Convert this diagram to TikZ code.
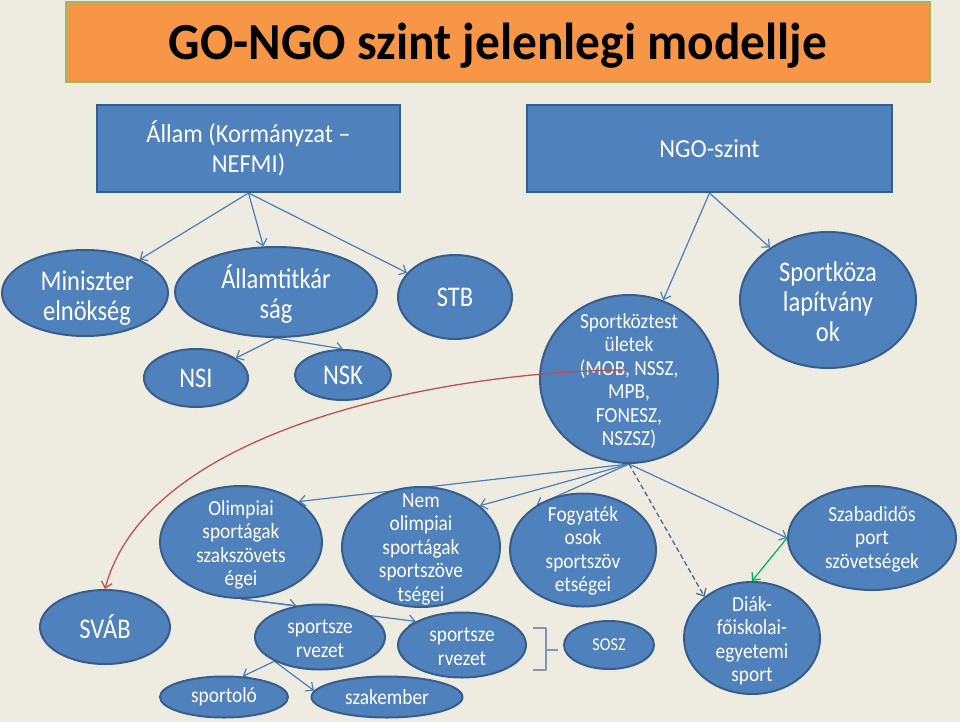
\documentclass[tikz,border=0pt]{standalone}
\usepackage{fontspec}
\setmainfont{Carlito}
\newfontfamily\titlef{Carlito}[FakeStretch=0.95]
\newfontfamily\boxf{Carlito}[FakeStretch=0.94]
\newfontfamily\bigf{Carlito}[FakeStretch=0.86]
\newfontfamily\medf{Carlito}[FakeStretch=0.9]
\usetikzlibrary{shapes.geometric,arrows.meta}
\definecolor{bgc}{HTML}{EEECE1}
\definecolor{blobfill}{HTML}{4F81BD}
\definecolor{blobline}{HTML}{385D8A}
\definecolor{arr}{HTML}{4A7EBB}
\definecolor{dashc}{HTML}{3F5F88}
\definecolor{titlefill}{HTML}{F79646}
\definecolor{titleline}{HTML}{9BBB59}
\definecolor{redarr}{HTML}{C0504D}
\definecolor{greenarr}{HTML}{00B050}
\definecolor{bracec}{HTML}{8096B4}
\pgfdeclarelayer{bg}
\pgfdeclarelayer{edges}
\pgfsetlayers{bg,edges,main}
\begin{document}
\begin{tikzpicture}[x=1pt,y=-1pt,
  blob/.style={ellipse, draw=blobline, fill=blobfill, line width=2pt, inner sep=0pt},
  box/.style={rectangle, draw=blobline, fill=blobfill, line width=2pt, inner sep=0pt},
  boxtext/.style={text=white, align=center, font=\boxf\fontsize{26}{30}\selectfont, inner sep=0pt},
  big/.style={text=white, align=center, font=\bigf\fontsize{28.5}{30}\selectfont, inner sep=0pt},
  med/.style={text=white, align=center, font=\medf\fontsize{21.5}{23.5}\selectfont, inner sep=0pt},
  small/.style={text=white, align=center, font=\medf\fontsize{18}{20}\selectfont, inner sep=0pt},
  link/.style={draw=arr, line width=1.2pt, -{Straight Barb[length=6pt,width=11pt]}},
]
\begin{pgfonlayer}{bg}
\fill[bgc] (0,0) rectangle (960,722);
\end{pgfonlayer}
\useasboundingbox (0,0) rectangle (960,722);

% title
\node[rectangle, draw=titleline, fill=titlefill, line width=2.5pt, minimum width=864pt, minimum height=80pt, inner sep=0pt] (title) at (498,42) {};
\node[anchor=base, font=\titlef\fontsize{52}{60}\selectfont\bfseries, inner sep=0pt] (title-t) at (498,60) {GO-NGO szint jelenlegi modellje};

% top boxes
\node[box, minimum width=303pt, minimum height=87pt] (allam) at (248.5,148.5) {};
\node[boxtext] (allam-t) at (allam) {Állam (Kormányzat –\\NEFMI)};
\node[box, minimum width=365pt, minimum height=87pt] (ngo) at (709.5,148.5) {};
\node[boxtext] (ngo-t) at (ngo) {NGO-szint};

% second level
\node[blob, minimum width=166pt, minimum height=86pt] (minis) at (85,293) {};
\node[big] (minis-t) at (87,298) {Miniszter\\elnökség};
\node[blob, minimum width=202pt, minimum height=90pt] (allamt) at (276,292) {};
\node[big] (allamt-t) at (276,294) {Államtitkár\\ság};
\node[blob, minimum width=114pt, minimum height=84pt] (stb) at (455,297) {};
\node[big] (stb-t) at (stb) {STB};
\node[blob, minimum width=104pt, minimum height=58pt] (nsi) at (196,378) {};
\node[big] (nsi-t) at (nsi) {NSI};
\node[blob, minimum width=96pt, minimum height=50pt] (nsk) at (343,375) {};
\node[big] (nsk-t) at (nsk) {NSK};
\node[blob, minimum width=178pt, minimum height=168pt] (sk) at (629,379) {};
\node[med] (sk-t) at (629,381) {Sportköztest\\ületek\\(MOB, NSSZ,\\MPB,\\FONESZ,\\NSZSZ)};
\node[blob, minimum width=176pt, minimum height=136pt] (ska) at (828,300) {};
\node[big] (ska-t) at (828,302) {Sportköza\\lapítvány\\ok};

% third level
\node[blob, minimum width=130pt, minimum height=74pt] (svab) at (105,627) {};
\node[big] (svab-t) at (svab) {SVÁB};
\node[blob, minimum width=162pt, minimum height=112pt] (olimp) at (241,542) {};
\node[med] (olimp-t) at (241,545) {Olimpiai\\sportágak\\szakszövets\\égei};
\node[blob, minimum width=158pt, minimum height=120pt] (nem) at (421,547) {};
\node[med] (nem-t) at (421,549) {Nem\\olimpiai\\sportágak\\sportszöve\\tségei};
\node[blob, minimum width=146pt, minimum height=113pt] (fogy) at (583,550) {};
\node[med] (fogy-t) at (583,551) {Fogyaték\\osok\\sportszöv\\etségei};
\node[blob, minimum width=168pt, minimum height=104pt] (szab) at (872,538) {};
\node[med] (szab-t) at (872,539) {Szabadidős\\port\\szövetségek};
\node[blob, minimum width=136pt, minimum height=112pt] (diak) at (752,638) {};
\node[med] (diak-t) at (752,641) {Diák-\\főiskolai-\\egyetemi\\sport};
\node[blob, minimum width=130pt, minimum height=65pt] (ss1) at (320,637) {};
\node[med] (ss1-t) at (320,639) {sportsze\\rvezet};
\node[blob, minimum width=128pt, minimum height=65pt] (ss2) at (462,645) {};
\node[med] (ss2-t) at (462,647) {sportsze\\rvezet};
\node[blob, minimum width=90pt, minimum height=48pt] (sosz) at (609,645) {};
\node[small] (sosz-t) at (sosz) {SOSZ};
\node[blob, minimum width=128pt, minimum height=41pt] (sportolo) at (224,697) {};
\node[med] (sportolo-t) at (sportolo) {sportoló};
\node[blob, minimum width=151pt, minimum height=41pt] (szak) at (387,697) {};
\node[med] (szak-t) at (szak) {szakember};

% brace
\coordinate (br) at (558,650);
\draw[bracec, line width=2.2pt, line join=round] (533,628) -- (546,628) -- (546,650) -- (br) (546,650) -- (546,670) -- (533,670);

\begin{pgfonlayer}{edges}
\draw[link] (allam.south) -- (minis);
\draw[link] (allam.south) -- (allamt);
\draw[link] (allam.south) -- (stb);
\draw[link] (allamt.south) -- (nsi);
\draw[link] (allamt.south) -- (nsk.north);
\draw[link] (ngo.south) -- (sk);
\draw[link] (ngo.south) -- (ska);
\draw[link] (sk.south) -- (olimp.35);
\draw[link] (sk.south) -- (nem.35);
\draw[link] (sk.south) -- (fogy.136);
\draw[link, draw=dashc, dash pattern=on 5pt off 3pt] (sk.south) -- (diak.139);
\draw[link] (sk.south) -- (szab.west);
\draw[link, draw=greenarr] (szab.west) -- (diak.north);
\draw[link] (olimp.south) -- (ss1.127);
\draw[link] (olimp.south) -- (ss2.153);
\draw[link] (ss1.208) -- (sportolo.48);
\draw[link] (ss1.208) -- (szak.175);
\end{pgfonlayer}

% red curve
\coordinate (redstart) at (628,370);
\draw[draw=redarr, line width=1.3pt, -{Straight Barb[length=6pt,width=11pt]}] (redstart) .. controls (470,370) and (150,420) .. (svab.north);
\end{tikzpicture}
\end{document}
